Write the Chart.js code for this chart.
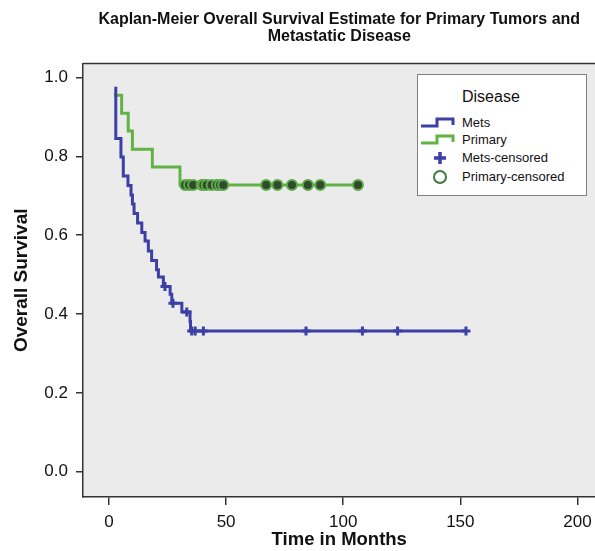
<!DOCTYPE html>
<html>
<head>
<meta charset="utf-8">
<script src="https://cdn.jsdelivr.net/npm/chart.js@4/dist/chart.umd.min.js"></script>
<style>
  html, body { margin: 0; padding: 0; background: #fff; overflow: hidden; }
  #wrap { position: relative; width: 595px; height: 551px; overflow: hidden; }
  #km { position: absolute; left: 0; top: 0; }
  #legend {
    position: absolute; left: 417px; top: 74px; width: 168px; height: 120px;
    border: 1px solid #808080; background: #fff;
    font-family: "Liberation Sans", Arial, sans-serif; color: #111;
  }
  #legend .ttl { position: absolute; left: 44px; top: 13px; font-size: 16px; }
  #legend .row { position: absolute; left: 0; width: 168px; height: 16px; }
  #legend .row svg { position: absolute; left: 3px; top: 0; }
  #legend .row span { position: absolute; left: 44px; top: 0; font-size: 13px; line-height: 16px; }
</style>
</head>
<body>
<div id="wrap">
  <!-- canvas a bit wider than the window: the right edge of the plot is cut off like in the source -->
  <canvas id="km" width="603" height="551"></canvas>
  <div id="legend">
    <div class="ttl">Disease</div>
    <div class="row" style="top:40px">
      <svg width="36" height="16"><path d="M0 11 H16 V4 H32 V10" fill="none" stroke="#3c3fa6" stroke-width="3"/></svg>
      <span>Mets</span>
    </div>
    <div class="row" style="top:57px">
      <svg width="36" height="16"><path d="M0 11 H16 V4 H32 V10" fill="none" stroke="#62b346" stroke-width="3"/></svg>
      <span>Primary</span>
    </div>
    <div class="row" style="top:75px">
      <svg width="36" height="16"><path d="M19 2 V14 M13 8 H25" fill="none" stroke="#3c3fa6" stroke-width="3.5"/></svg>
      <span>Mets-censored</span>
    </div>
    <div class="row" style="top:94px">
      <svg width="36" height="16"><circle cx="19" cy="8" r="6" fill="none" stroke="#3d7a3d" stroke-width="2"/></svg>
      <span>Primary-censored</span>
    </div>
  </div>
</div>
<script>
// Kaplan-Meier steps (months, survival)
const metsTimes = [2.9, 2.9, 5.1, 6.1, 8.1, 9.4, 10.0, 10.7, 12.2, 14.0, 15.4, 16.8, 18.2, 20.3, 21.1, 23.2, 26.1, 26.8, 31.1, 34.6, 34.8, 152.4];
const metsSurv  = [0.976, 0.845, 0.798, 0.750, 0.726, 0.702, 0.679, 0.655, 0.631, 0.607, 0.585, 0.560, 0.536, 0.512, 0.494, 0.470, 0.450, 0.427, 0.405, 0.381, 0.357, 0.357];
const metsCensTimes = [23.9, 27.3, 33.2, 35.3, 36.8, 40.3, 84.1, 108.2, 123.2, 152.4];
const metsCensSurv  = [0.470, 0.427, 0.405, 0.357, 0.357, 0.357, 0.357, 0.357, 0.357, 0.357];

const primaryTimes = [2.1, 5.4, 8.2, 10.0, 18.5, 30.3, 106.3];
const primarySurv  = [0.955, 0.909, 0.864, 0.818, 0.773, 0.727, 0.727];
const primaryCensTimes = [32.5, 34.2, 35.9, 39.6, 40.3, 41.7, 43.8, 46.0, 47.4, 48.8, 67.1, 71.9, 78.1, 84.9, 90.2, 106.3];
const primaryCensSurv  = primaryCensTimes.map(() => 0.727);

const xTicks = [0, 50, 100, 150, 200];
const yTicks = [0, 0.2, 0.4, 0.6, 0.8, 1.0];

const BLUE = "#3c3fa6";
const GREEN = "#62b346";
const FONT = '"Liberation Sans", Arial, sans-serif';
Chart.defaults.font.family = FONT;
Chart.defaults.color = "#111";

function pts(xs, ys){ return xs.map((x, i) => ({ x: x, y: ys[i] })); }

// grey plot area + top frame line
const plotArea = {
  id: "plotArea",
  beforeDraw(chart){
    const { ctx, chartArea: a } = chart;
    ctx.save();
    ctx.fillStyle = "#ebebeb";
    ctx.fillRect(a.left, a.top, a.right - a.left, a.bottom - a.top);
    ctx.strokeStyle = "#333";
    ctx.lineWidth = 1.5;
    ctx.beginPath();
    ctx.moveTo(a.left, a.top);
    ctx.lineTo(a.right, a.top);
    ctx.stroke();
    ctx.restore();
  }
};

new Chart(document.getElementById("km"), {
  type: "scatter",
  data: {
    datasets: [
      { label: "Primary-censored", data: pts(primaryCensTimes, primaryCensSurv),
        pointStyle: "circle", pointRadius: 5, backgroundColor: "#2f4a2c", borderColor: "#5ea94a", borderWidth: 2 },
      { label: "Mets-censored", data: pts(metsCensTimes, metsCensSurv),
        pointStyle: "cross", pointRadius: 4.5, borderColor: BLUE, borderWidth: 3 },
      { label: "Mets", data: pts(metsTimes, metsSurv), showLine: true, stepped: "before",
        borderColor: BLUE, borderWidth: 3, pointRadius: 0, fill: false },
      { label: "Primary", data: pts(primaryTimes, primarySurv), showLine: true, stepped: "before",
        borderColor: GREEN, borderWidth: 3, pointRadius: 0, fill: false }
    ]
  },
  options: {
    responsive: false,
    animation: false,
    events: [],
    layout: { padding: 0 },
    plugins: {
      legend: { display: false },
      tooltip: { enabled: false },
      title: {
        display: true,
        fullSize: false,
        text: ["Kaplan-Meier Overall Survival Estimate for Primary Tumors and", "Metastatic Disease"],
        font: { size: 16, weight: "bold", lineHeight: 1.05 },
        color: "#111",
        padding: { top: 11, bottom: 19 }
      }
    },
    scales: {
      x: {
        type: "linear", min: -11.1, max: 207.7,
        afterBuildTicks(s){ s.ticks = xTicks.map(v => ({ value: v })); },
        afterFit(s){ s.height = 54; },
        ticks: { font: { size: 17 }, color: "#111", padding: 7 },
        grid: { drawOnChartArea: false, drawTicks: true, tickLength: 8, color: "#333", lineWidth: 1.5 },
        border: { display: true, color: "#333", width: 1.5 },
        title: { display: true, text: "Time in Months", font: { size: 18.5, weight: "bold" }, color: "#111", padding: 0 }
      },
      y: {
        min: -0.064, max: 1.035,
        afterBuildTicks(s){ s.ticks = yTicks.map(v => ({ value: v })); },
        afterFit(s){ s.width = 83; },
        ticks: { font: { size: 17 }, color: "#111", padding: 8, callback: v => v.toFixed(1) },
        grid: { drawOnChartArea: false, drawTicks: true, tickLength: 7, color: "#333", lineWidth: 1.5 },
        border: { display: true, color: "#333", width: 1.5 },
        title: { display: true, text: "Overall Survival", font: { size: 19, weight: "bold" }, color: "#111", padding: { top: 10, bottom: 0 } }
      }
    }
  },
  plugins: [plotArea]
});
</script>
</body>
</html>
